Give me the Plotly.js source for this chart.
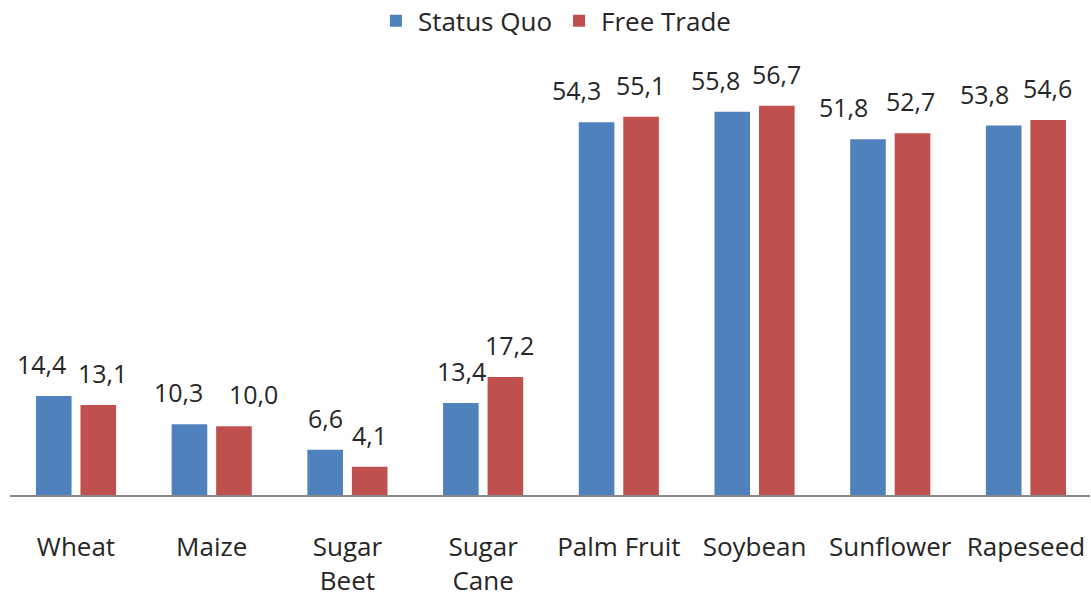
<!DOCTYPE html>
<html>
<head>
<meta charset="utf-8">
<script src="https://cdn.plot.ly/plotly-3.0.1.min.js"></script>
<style>html,body{margin:0;padding:0;background:#fff}#chart{width:1091px;height:599px}</style>
</head>
<body>
<div id="chart"></div>
<script>
const categories = ["Wheat", "Maize", "Sugar<br>Beet", "Sugar<br>Cane", "Palm Fruit", "Soybean", "Sunflower", "Rapeseed"];
const statusQuo = [14.4, 10.3, 6.6, 13.4, 54.3, 55.8, 51.8, 53.8];
const freeTrade = [13.1, 10.0, 4.1, 17.2, 55.1, 56.7, 52.7, 54.6];
const seriesNames = ["Status Quo", "Free Trade"];

// label nudges (px, styling only)
const nudgeSQ = [-13, -11, 0, 0, -20, -17, -25, -19];
const nudgeFT = [4, 20, 0, 4, 0, 0, -2, 0];

const font = "'Open Sans', 'Noto Sans', sans-serif";
const txtColor = '#262626';
function fmt(v){ return v.toFixed(1).replace('.', ','); }

const traces = [
  {type:'bar', name:seriesNames[0], x:categories, y:statusQuo, marker:{color:'#4F81BD'}, hoverinfo:'y'},
  {type:'bar', name:seriesNames[1], x:categories, y:freeTrade, marker:{color:'#C0504D'}, hoverinfo:'y'}
];

const groupOffset = 22;
const annotations = [];
[[statusQuo, -groupOffset, nudgeSQ], [freeTrade, groupOffset, nudgeFT]].forEach(([vals, off, nudge]) => {
  vals.forEach((v, i) => {
    annotations.push({x: categories[i], y: v, xref:'x', yref:'y', text: fmt(v), showarrow:false,
      xanchor:'center', yanchor:'bottom', xshift: off + nudge[i], yshift: 13,
      font:{family:font, size:25, color:txtColor}});
  });
});

const layout = {
  width:1091, height:599,
  margin:{l:10, r:1, t:83, b:104},
  paper_bgcolor:'#fff', plot_bgcolor:'#fff',
  font:{family:font, size:26, color:txtColor},
  barmode:'group', bargap:0.344, bargroupgap:0.2,
  showlegend:true,
  legend:{orientation:'h', x:0.505, xanchor:'center', y:0.965, yref:'container', yanchor:'middle',
          font:{family:font, size:26, color:txtColor}, traceorder:'normal', itemwidth:34},
  xaxis:{range:[-0.4864, 7.472], showline:true, linecolor:'#888', linewidth:2, ticks:'', showgrid:false,
         tickfont:{family:font, size:26, color:txtColor}, ticklabelstandoff:28, fixedrange:true},
  yaxis:{range:[0,60], visible:false, showgrid:false, zeroline:false, fixedrange:true},
  annotations: annotations
};

Plotly.newPlot('chart', traces, layout, {displayModeBar:false, staticPlot:true});
</script>
</body>
</html>
